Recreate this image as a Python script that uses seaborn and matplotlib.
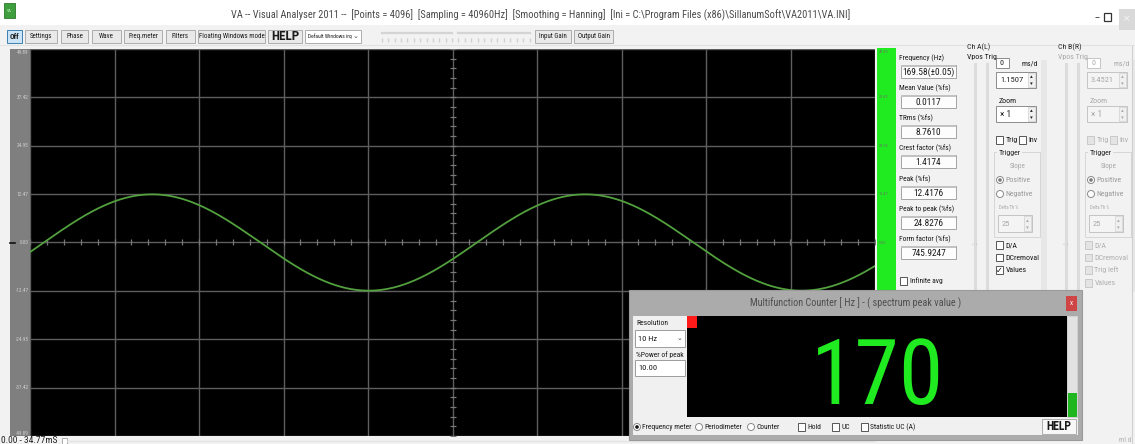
import numpy as np
import matplotlib
matplotlib.use("Agg")
import matplotlib.pyplot as plt
from matplotlib import font_manager as fm
from matplotlib.font_manager import FontProperties
from matplotlib.patches import Rectangle, Circle
import seaborn as sns

# ---------------- data ----------------
SPAN_MS = 34.77                 # horizontal span of the trace window
FULL_SCALE = 49.89              # vertical full scale (%fs)
N_XDIV = 10
N_YDIV = 8
Y_LABELS = ["49.89", "37.42", "24.95", "12.47", "0.00",
            "-12.47", "-24.95", "-37.42", "-49.89"]
PEAK_FS = 12.4176               # peak amplitude of channel A (%fs)
PERIOD_MS = 17.82               # period of the displayed trace
RISE_ZERO_MS = 18.39            # rising zero crossing of the trace

MEAS_NAMES = ["Frequency (Hz)", "Mean Value (%fs)", "TRms (%fs)",
              "Crest factor (%fs)", "Peak (%fs)", "Peak to peak (%fs)",
              "Form factor (%fs)"]
MEAS_VALUES = ["169.58(±0.05)", "0.0117", "8.7610", "1.4174",
               "12.4176", "24.8276", "745.9247"]
CH_A_GAIN = "1.1507"
CH_B_GAIN = "3.4521"
COUNTER_READING = "170"
TOOLBAR_LABELS = ["Off", "Settings", "Phase", "Wave", "Freq.meter",
                  "Filters", "Floating Windows mode", "HELP"]
TITLE = (r"VA -- Visual Analyser 2011 --  [Points = 4096]  "
         r"[Sampling = 40960Hz]  [Smoothing = Hanning]  "
         r"[Ini = C:\Program Files (x86)\SillanumSoft\VA2011\VA.INI]")
COUNTER_TITLE = "Multifunction Counter [ Hz ] - ( spectrum peak value )"

W, H = 1135, 444


# ---------------- fonts ----------------
def ui_font():
    """Pick the narrowest installed sans face for the dialog text."""
    faces = fm.fontManager.ttflist
    names = {f.name for f in faces}
    for n in ("Liberation Sans Narrow", "Arial Narrow", "Roboto Condensed",
              "Open Sans Condensed", "Noto Sans Condensed",
              "DejaVu Sans Condensed"):
        if n in names:
            return n, "normal"
    for n in ("Noto Sans", "DejaVu Sans", "Open Sans", "Roboto"):
        if any(f.name == n and str(f.stretch) in
               ("condensed", "semi-condensed", "extra-condensed")
               for f in faces):
            return n, "condensed"
    if "Liberation Sans" in names:
        return "Liberation Sans", "normal"
    return "DejaVu Sans", "normal"


UI_FAMILY, UI_STRETCH = ui_font()


def fp(pt, weight="normal"):
    return FontProperties(family=[UI_FAMILY, "DejaVu Sans"],
                          stretch=UI_STRETCH, weight=weight, size=pt)


fig = plt.figure(figsize=(W / 100, H / 100), dpi=100, facecolor="#f2f2f2")
R = fig.canvas.get_renderer()


def fit(s, target_px, weight="normal"):
    t = fig.text(0, 0, s, fontproperties=fp(10, weight))
    w = t.get_window_extent(renderer=R).width
    t.remove()
    return 10.0 * target_px / w


# ---------------- helpers ----------------
def box(a, x0, y0, x1, y1, fc, ec="none", lw=0.8, z=1):
    a.add_patch(Rectangle((x0, y0), x1 - x0, y1 - y0, facecolor=fc,
                          edgecolor=ec, linewidth=lw, zorder=z))


def txt(a, x, y, s, pt, color="#1a1a1a", ha="left", va="center",
        weight="normal", z=5):
    a.text(x, y, s, fontproperties=fp(pt, weight), color=color, ha=ha,
           va=va, zorder=z)


def sym(a, x, y, s, px, color="#333333", ha="center", weight="normal", z=5):
    a.text(x, y, s, fontsize=px * 0.72, family="DejaVu Sans", color=color,
           ha=ha, va="center", fontweight=weight, zorder=z)


def checkbox(a, x, y, label, pt, checked=False, dim=False):
    fc = "#e4e4e4" if dim else "#ffffff"
    ec = "#c8c8c8" if dim else "#555555"
    box(a, x, y - 3.6, x + 7.2, y + 3.6, fc, ec, 0.7, z=3)
    if checked:
        sym(a, x + 3.6, y + 0.3, "✓", 8, color="#111111", weight="bold")
    txt(a, x + 9.5, y, label, pt, color="#b0b0b0" if dim else "#1a1a1a")


def radio(a, x, y, label, pt, filled=False, color="#9a9a9a", dot="#7a7a7a"):
    a.add_patch(Circle((x, y), 3.5, facecolor="#ffffff", edgecolor="#8a8a8a",
                       linewidth=0.7, zorder=3))
    if filled:
        a.add_patch(Circle((x, y), 1.8, facecolor=dot, edgecolor="none",
                           zorder=4))
    txt(a, x + 5.5, y, label, pt, color=color)


def spinbox(a, x0, y0, x1, y1, value, pt, dim=False):
    box(a, x0, y0, x1, y1, "#f4f4f4" if dim else "#ffffff",
        "#c4c4c4" if dim else "#8c8c8c", 0.7, z=3)
    box(a, x1 - 8, y0 + 1, x1 - 1, y1 - 1, "#f0f0f0", "#d0d0d0", 0.5, z=3)
    col = "#a8a8a8" if dim else "#222222"
    sym(a, x1 - 4.5, y0 + (y1 - y0) * 0.3, "▴", 5.5, color=col)
    sym(a, x1 - 4.5, y0 + (y1 - y0) * 0.72, "▾", 5.5, color=col)
    txt(a, x0 + 4, (y0 + y1) / 2, value, pt, color=col)


def button(a, x0, x1, label, pt, y0=30, y1=43, fc="#e9e9e9", ec="#adadad",
           weight="normal"):
    box(a, x0, y0, x1, y1, fc, ec, 0.7, z=2)
    txt(a, (x0 + x1) / 2, (y0 + y1) / 2, label, pt, ha="center",
        weight=weight)


# text sizes, each fitted to the width the text takes in the window
TITLE_PT = fit(TITLE, 618)
TOOL_PT = fit("Floating Windows mode", 65)
HELP_PT = fit("HELP", 28, "bold")
LAB_PT = fit("Crest factor (%fs)", 52)
VAL_PT = fit("745.9247", 35)
CH_PT = fit("DCremoval", 34)
CHV_PT = fit("1.1507", 23)
TINY_PT = fit("Delta Th %", 19)
SCALE_PT = fit("-37.42", 13)
GREEN_PT = fit("-12.47", 11)
STATUS_PT = fit("0.00 - 34.77mS", 56)
CT_PT = fit(COUNTER_TITLE, 210)
ROW_PT = fit("Frequency meter", 49)
LEFT_PT = fit("%Power of peak", 48)
CHELP_PT = fit("HELP", 25, "bold")
BIG_PT = min(fit(COUNTER_READING, 132), 80.0)

# ---------------- window chrome ----------------
bg = fig.add_axes([0, 0, 1, 1], label="chrome")
bg.set_xlim(0, W)
bg.set_ylim(H, 0)
bg.axis("off")
bg.set_zorder(0)

# title bar
box(bg, 0, 0, W, 25, "#ffffff")
box(bg, 4, 3, 15, 18, "#3f9f3f", "#2a7a2a", 0.6)
txt(bg, 9.5, 10.5, "VA", 3, color="#d8ffd8", ha="center")
txt(bg, 231, 15, TITLE, TITLE_PT, color="#4a4a4a")
sym(bg, 1097, 17, "–", 10)
box(bg, 1104, 13, 1111, 21, "none", "#333333", 0.9)
box(bg, 1119, 9, W, 30, "#d9d9d9")
sym(bg, 1127, 19, "×", 9, color="#f7f7f7")

# toolbar
tool_x = [(7, 22), (25, 57), (61, 88), (92, 121), (124, 162),
          (166, 195), (198, 265), (268, 302)]
for (x0, x1), lab in zip(tool_x, TOOLBAR_LABELS):
    if lab == "Off":
        button(bg, x0, x1, lab, TOOL_PT * 1.1, fc="#cce4f7", ec="#3c7fb1",
               weight="bold")
    elif lab == "HELP":
        button(bg, x0, x1, lab, HELP_PT, weight="bold")
    else:
        button(bg, x0, x1, lab, TOOL_PT)
box(bg, 305, 30, 361, 43, "#ffffff", "#adadad", 0.7, z=2)
txt(bg, 308, 36.5, "Default Windows irq", fit("Default Windows irq", 43))
sym(bg, 356, 35.5, "⌄", 7, color="#444444")
for x0, x1 in [(382, 452), (458, 530)]:
    bg.plot([x0, x1], [33, 33], color="#d4d4d4", lw=1.6, zorder=2)
    bg.plot(np.linspace(x0, x1, 12), np.full(12, 40), ls="none",
            marker="|", ms=2.5, color="#cfcfcf", zorder=2)
button(bg, 535, 571, "Input Gain", TOOL_PT)
button(bg, 574, 613, "Output Gain", TOOL_PT)
bg.plot([0, W], [45.5, 45.5], color="#e2e2e2", lw=0.8)

# left scale strip
box(bg, 10, 49, 30, 436, "#7f7f7f")
y_grid = np.linspace(FULL_SCALE, -FULL_SCALE, N_YDIV + 1)
y_pix = 49 + (FULL_SCALE - y_grid) / (2 * FULL_SCALE) * (436 - 49)
for yp, lab in zip(y_pix, Y_LABELS):
    yy = min(max(yp, 52), 433)
    txt(bg, 28.5, yy, lab, SCALE_PT, color="#cfcfcf", ha="right")
bg.plot([10, 15], [y_pix[4], y_pix[4]], color="#111111", lw=1.2, zorder=3)

# right level strip (only the part above the counter window is visible)
box(bg, 877, 48, 896, 437, "#20ea20")
for yp, lab in zip(y_pix, Y_LABELS):
    if yp < 286:
        yy = max(yp, 52)
        txt(bg, 879, yy, lab, GREEN_PT, color="#5f7f5f")

# bottom status
txt(bg, 1, 440, "0.00 - 34.77mS", STATUS_PT, color="#222222")
box(bg, 62, 437.5, 67, 444, "#ffffff", "#a0a0a0", 0.6)
bg.plot([67, 875], [440.5, 440.5], color="#e4e4e4", lw=1.0)

# measurement column
meas_y = [58, 88, 118, 148, 179, 209, 239]
for yl, name, val in zip(meas_y, MEAS_NAMES, MEAS_VALUES):
    txt(bg, 899, yl, name, LAB_PT)
    box(bg, 901, yl + 7, 956, yl + 20, "#fdfdfd", "#a4a4a4", 0.7, z=2)
    box(bg, 901, yl + 7, 956, yl + 9, "#c2c2c2", z=3)
    txt(bg, 928.5, yl + 14.5, val, VAL_PT, ha="center")
checkbox(bg, 900, 281, "Infinite avg", LAB_PT)

# channel panels
for dx, name, gain, dim in [(0, "Ch A(L)", CH_A_GAIN, False),
                            (91, "Ch B(R)", CH_B_GAIN, True)]:
    dark = "#2a2a2a"
    soft = "#a9a9a9" if dim else "#1a1a1a"
    txt(bg, 967 + dx, 47, name, CH_PT, color=dark)
    txt(bg, 967 + dx, 56.5, "Vpos Trig", CH_PT, color=soft)
    for sx in (975, 987):
        bg.plot([sx + dx, sx + dx], [64, 292], color="#dcdcdc", lw=2.2,
                zorder=1)
    sym(bg, 975 + dx, 244, "‹ ›", 5, color="#b8b8b8")
    box(bg, 996 + dx, 58, 1009 + dx, 68, "#ffffff",
        "#c4c4c4" if dim else "#8c8c8c", 0.7, z=2)
    txt(bg, 1000 + dx, 63, "0", CH_PT, color=soft)
    txt(bg, 1022 + dx, 63, "ms/d", CH_PT, color=soft)
    spinbox(bg, 996 + dx, 72, 1036 + dx, 88, gain, CHV_PT, dim)
    txt(bg, 999 + dx, 101, "Zoom", CH_PT, color=soft)
    spinbox(bg, 996 + dx, 106, 1036 + dx, 122, "× 1", CHV_PT * 1.1, dim)
    checkbox(bg, 996 + dx, 140, "Trig", CH_PT, dim=dim)
    checkbox(bg, 1019 + dx, 140, "Inv", CH_PT, dim=dim)
    box(bg, 994 + dx, 152, 1040 + dx, 237, "none", "#d6d6d6", 0.7, z=2)
    box(bg, 997 + dx, 148, 1022 + dx, 156, "#f2f2f2", z=2)
    txt(bg, 999 + dx, 152.5, "Trigger", CH_PT, color=dark)
    txt(bg, 1010 + dx, 166, "Slope", CH_PT * 0.9, color="#a8a8a8")
    radio(bg, 1000 + dx, 180, "Positive", CH_PT, filled=True)
    radio(bg, 1000 + dx, 194, "Negative", CH_PT)
    txt(bg, 999 + dx, 207, "Delta Th %", TINY_PT, color="#a8a8a8")
    spinbox(bg, 998 + dx, 215, 1032 + dx, 232, "25", CHV_PT, dim=True)
    box(bg, 1041 + dx, 60, 1047 + dx, 292, "#e7e7e7", z=1)
    if dim:
        names = ["D/A", "DCremoval", "Trig left", "Values"]
        ys = [245, 257.5, 270, 283]
        for nm, yy in zip(names, ys):
            checkbox(bg, 994 + dx, yy, nm, CH_PT, dim=True)
    else:
        checkbox(bg, 996, 245, "D/A", CH_PT)
        checkbox(bg, 996, 257.5, "DCremoval", CH_PT)
        checkbox(bg, 996, 270, "Values", CH_PT, checked=True)
bg.plot([1132, 1132], [46, 444], color="#d0d0d0", lw=0.8)
txt(bg, 1119, 440, "ml d", CH_PT * 0.9, color="#b0b0b0")

# ---------------- oscilloscope trace ----------------
ax = fig.add_axes([30 / W, (H - 436) / H, 845 / W, 387 / H], label="scope")
ax.set_zorder(1)
ax.set_facecolor("#000000")

t = np.linspace(0, SPAN_MS, 1200)
trace = PEAK_FS * np.sin(2 * np.pi * (t - RISE_ZERO_MS) / PERIOD_MS)
sns.lineplot(x=t, y=trace, ax=ax, color="#52a03e", linewidth=1.3,
             estimator=None, sort=False, zorder=4)

ax.set_xlim(0, SPAN_MS)
ax.set_ylim(-FULL_SCALE, FULL_SCALE)
ax.set_xticks(np.linspace(0, SPAN_MS, N_XDIV + 1))
ax.set_yticks(np.linspace(-FULL_SCALE, FULL_SCALE, N_YDIV + 1))
ax.grid(True, color="#5e5e5e", linewidth=1.0)
ax.tick_params(length=0, labelbottom=False, labelleft=False)
for sp in ax.spines.values():
    sp.set_visible(False)
ax.set_xlabel("")
ax.set_ylabel("")

# centre cross with fine division marks
x_minor = np.linspace(0, SPAN_MS, N_XDIV * 5 + 1)
y_minor = np.linspace(-FULL_SCALE, FULL_SCALE, N_YDIV * 5 + 1)
ax.plot(x_minor, np.zeros_like(x_minor), ls="none", marker="|", ms=5,
        mew=0.9, color="#777777", zorder=3)
ax.plot(np.full_like(y_minor, SPAN_MS / 2), y_minor, ls="none", marker="_",
        ms=5, mew=0.9, color="#777777", zorder=3)

# ---------------- multifunction counter window ----------------
fg = fig.add_axes([0, 0, 1, 1], label="counter")
fg.set_xlim(0, W)
fg.set_ylim(H, 0)
fg.axis("off")
fg.set_zorder(2)
fg.patch.set_alpha(0)

box(fg, 629, 290, 1082, 440, "#ababab", "#9a9a9a", 0.8)
txt(fg, 856, 303.5, COUNTER_TITLE, CT_PT, color="#4e4e4e", ha="center")
box(fg, 1066, 296, 1077, 311, "#cf4444")
txt(fg, 1071.5, 303.5, "x", CT_PT * 0.7, color="#ffffff", ha="center")
box(fg, 633, 316, 1078, 435, "#f0f0f0")

# left controls
txt(fg, 636, 323, "Resolution", LEFT_PT)
box(fg, 635, 330, 685, 347, "#ffffff", "#9c9c9c", 0.7, z=2)
txt(fg, 638, 338.5, "10 Hz", LEFT_PT * 1.1)
sym(fg, 679, 337.5, "⌄", 7, color="#444444")
txt(fg, 636, 354.5, "%Power of peak", LEFT_PT)
box(fg, 635, 360, 685, 376, "#ffffff", "#9c9c9c", 0.7, z=2)
txt(fg, 638, 368, "10.00", LEFT_PT * 1.1)

# display
box(fg, 687, 316, 1067, 417, "#000000", z=2)
box(fg, 687, 316, 697, 328, "#ff1a1a", z=3)
txt(fg, 878, 404, COUNTER_READING, BIG_PT, color="#20ea20", ha="center",
    va="baseline", z=4)
box(fg, 1067, 316, 1077, 417, "#e2e2e2", "#c8c8c8", 0.5, z=2)
box(fg, 1068, 393, 1077, 417, "#1fb61f", z=3)

# bottom options row
ry = 427
radio(fg, 637, ry, "Frequency meter", ROW_PT, filled=True, color="#1a1a1a",
      dot="#111111")
radio(fg, 699, ry, "Periodimeter", ROW_PT, color="#1a1a1a")
radio(fg, 751, ry, "Counter", ROW_PT, color="#1a1a1a")
checkbox(fg, 798, ry, "Hold", ROW_PT)
checkbox(fg, 832, ry, "UC", ROW_PT)
checkbox(fg, 861, ry, "Statistic UC (A)", ROW_PT)
box(fg, 1042, 419, 1076, 433.5, "#f7f7f7", "#adadad", 0.7, z=2)
txt(fg, 1059, 426.5, "HELP", CHELP_PT, ha="center", weight="bold")

fig.savefig("out.png", dpi=100, facecolor=fig.get_facecolor())
